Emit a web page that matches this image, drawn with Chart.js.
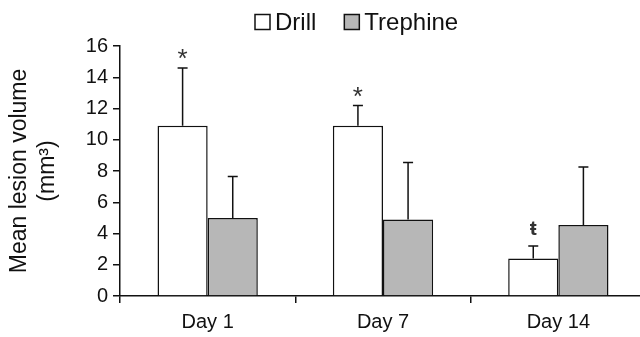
<!DOCTYPE html>
<html>
<head>
<meta charset="utf-8">
<script src="https://cdn.jsdelivr.net/npm/chart.js@4/dist/chart.umd.min.js"></script>
<style>
    html, body { margin: 0; padding: 0; background: #fff; overflow: hidden; }
    #wrap { width: 646px; height: 337px; }
</style>
</head>
<body>
<div id="wrap"><canvas id="lesion"></canvas></div>
<script>
const categories = ['Day 1', 'Day 7', 'Day 14'];
const drillMean = [10.9, 10.9, 2.4];
const drillErr = [3.7, 1.3, 0.8];
const trephineMean = [5.0, 4.9, 4.55];
const trephineErr = [2.65, 3.65, 3.7];
const drillMarks = ['*', '*', 'ŧ'];
const yMin = 0;
const yMax = 16;
const yStep = 2;

const FONT = 'Liberation Sans, Arial, sans-serif';

const errorBars = {
    id: 'errorBars',
    afterDatasetsDraw(chart) {
        const ctx = chart.ctx;
        const y = chart.scales.y;
        ctx.save();
        ctx.strokeStyle = '#111';
        ctx.lineWidth = 1.5;
        chart.data.datasets.forEach((ds, i) => {
            const meta = chart.getDatasetMeta(i);
            meta.data.forEach((bar, j) => {
                const top = y.getPixelForValue(ds.data[j] + ds.errors[j]);
                ctx.beginPath();
                ctx.moveTo(bar.x, bar.y);
                ctx.lineTo(bar.x, top);
                ctx.moveTo(bar.x - 5, top);
                ctx.lineTo(bar.x + 5, top);
                ctx.stroke();
                if (ds.marks) {
                    const m = ds.marks[j];
                    ctx.fillStyle = '#333';
                    ctx.textAlign = 'center';
                    ctx.textBaseline = 'middle';
                    if (m === '*') {
                        ctx.font = '26px ' + FONT;
                        ctx.fillText(m, bar.x, top - 8);
                    } else {
                        ctx.font = 'bold 21px ' + FONT;
                        ctx.fillText(m, bar.x, top - 17);
                    }
                }
            });
        });
        ctx.restore();
    }
};

const boxLegend = {
    id: 'boxLegend',
    afterDraw(chart) {
        const ctx = chart.ctx;
        ctx.save();
        ctx.font = '24px ' + FONT;
        ctx.textBaseline = 'middle';
        ctx.textAlign = 'left';
        let x = 255;
        const cy = 22;
        chart.data.datasets.forEach(ds => {
            ctx.fillStyle = ds.backgroundColor;
            ctx.fillRect(x, cy - 7.5, 15, 15);
            ctx.strokeStyle = '#111';
            ctx.lineWidth = 1.5;
            ctx.strokeRect(x, cy - 7.5, 15, 15);
            ctx.fillStyle = '#111';
            ctx.fillText(ds.label, x + 20, cy + 1);
            x += 20 + ctx.measureText(ds.label).width + 28;
        });
        ctx.restore();
    }
};

new Chart(document.getElementById('lesion').getContext('2d'), {
    type: 'bar',
    data: {
        labels: categories,
        datasets: [{
            label: 'Drill',
            data: drillMean,
            errors: drillErr,
            marks: drillMarks,
            backgroundColor: '#ffffff',
            borderColor: '#111',
            borderWidth: 1.5
        }, {
            label: 'Trephine',
            data: trephineMean,
            errors: trephineErr,
            backgroundColor: '#b7b7b7',
            borderColor: '#111',
            borderWidth: 1.5
        }]
    },
    options: {
        responsive: true,
        maintainAspectRatio: false,
        animation: false,
        categoryPercentage: 0.572,
        barPercentage: 1.0,
        layout: { padding: { top: 46, bottom: 0, left: 0, right: 0 } },
        plugins: {
            legend: { display: false },
            tooltip: { enabled: false }
        },
        scales: {
            x: {
                afterFit(scale) { scale.height = 41; },
                grid: { offset: true, drawOnChartArea: false, tickLength: 7, color: '#111', lineWidth: 1.5 },
                border: { color: '#111', width: 1.5 },
                ticks: { color: '#111', font: { family: FONT, size: 20 }, padding: 7 }
            },
            y: {
                min: yMin,
                max: yMax,
                afterFit(scale) { scale.width = 120; },
                ticks: { stepSize: yStep, color: '#111', font: { family: FONT, size: 20 }, padding: 5 },
                grid: { drawOnChartArea: false, tickLength: 7, color: '#111', lineWidth: 1.5 },
                border: { color: '#111', width: 1.5 },
                title: {
                    display: true,
                    text: ['Mean lesion volume', '(mm\u00b3)'],
                    color: '#111',
                    font: { family: FONT, size: 23, lineHeight: 1.2 },
                    padding: { top: 6, bottom: 0 }
                }
            }
        }
    },
    plugins: [errorBars, boxLegend]
});
</script>
</body>
</html>
